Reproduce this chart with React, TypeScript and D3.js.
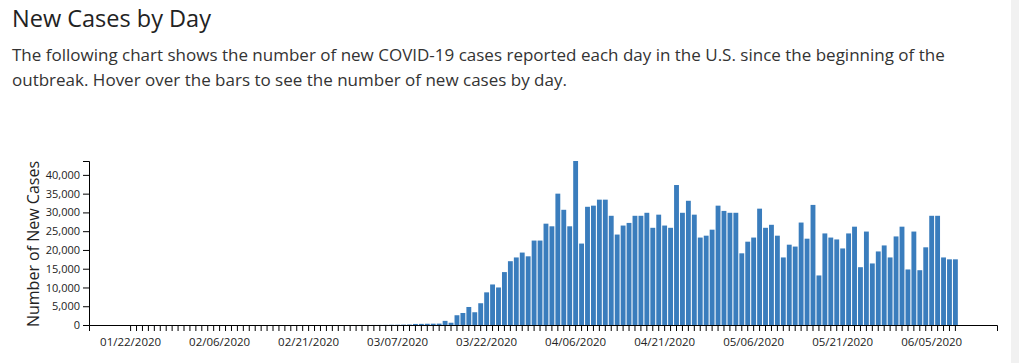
import React, { useEffect, useRef } from 'react'
import * as d3 from 'd3'

// first and last reported day (end is exclusive)
const START_DAY = new Date(Date.UTC(2020, 0, 22))
const END_DAY = new Date(Date.UTC(2020, 5, 10))

// new cases per day, 01/22 .. 06/09
const newCases = [
    // 01/22 - 02/29
    1, 0, 1, 0, 2, 0, 0, 0, 1, 2, 1, 0, 3, 0, 0, 0, 0, 0, 0, 0,
    0, 1, 0, 0, 0, 0, 0, 0, 0, 0, 0, 0, 0, 0, 3, 1, 0, 2, 3,
    // 03/01 - 03/31
    8, 8, 17, 20, 30, 60, 70, 90, 120,
    280, 300, 330, 350, 370, 1100, 600, 2600, 3200, 4800, 3400, 5800,
    8700, 10800, 10000, 14100, 17000, 18000, 19300, 18300, 22500, 22500,
    // 04/01 - 04/30
    27000, 26300, 35000, 30700, 26300, 43700, 21700, 31500, 31800, 33400,
    33400, 29100, 24100, 26500, 27200, 29100, 29100, 29900, 25900, 29400,
    26500, 25900, 37300, 29900, 33100, 29400, 23300, 23800, 25400, 31800,
    // 05/01 - 05/31
    30400, 29900, 29900, 19100, 22200, 23300, 31000, 25900, 26700, 23800,
    18000, 21400, 20900, 27300, 23000, 32000, 13200, 24400, 23300, 22800,
    20400, 24400, 26200, 15400, 24900, 16400, 19600, 21200, 18000, 23600,
    26200,
    // 06/01 - 06/09
    14800, 24900, 14600, 20700, 29100, 29100, 18000, 17500, 17500
]

const yTicks = [0, 5000, 10000, 15000, 20000, 25000, 30000, 35000, 40000]
const LABEL_EVERY = 15

const titleText = 'New Cases by Day'
const introLines = [
    'The following chart shows the number of new COVID-19 cases reported each day in the U.S. since the beginning of the',
    'outbreak. Hover over the bars to see the number of new cases by day.'
]

const W = 1019, H = 363
const FONT = "'Open Sans', sans-serif"

const App = () => {
    const svgRef = useRef<SVGSVGElement>(null)

    useEffect(() => {
        const days = d3.utcDay.range(START_DAY, END_DAY)
        const fmt = d3.utcFormat('%m/%d/%Y')
        const dataset = days.map((d, i) => ({ day: fmt(d), cases: newCases[i] ?? 0 }))

        const svg = d3.select(svgRef.current)
        svg.selectAll('*').remove()

        const x = d3.scaleBand()
            .domain(dataset.map(d => d.day))
            .range([89, 997])
            .paddingInner(0.18)
            .paddingOuter(6.6)

        const y = d3.scaleLinear()
            .domain([0, d3.max(dataset, d => d.cases) ?? 0])
            .range([325, 161])

        // 柱子
        svg.append('g')
            .selectAll('rect')
            .data(dataset)
            .join('rect')
            .attr('x', d => x(d.day) ?? 0)
            .attr('y', d => y(d.cases))
            .attr('width', x.bandwidth())
            .attr('height', d => y(0) - y(d.cases))
            .attr('fill', '#3a7dbd')

        // x 轴, 每天一个刻度, 每 15 天一个标签
        const xAxis = d3.axisBottom(x)
            .tickSize(6)
            .tickFormat((d, i) => (i % LABEL_EVERY === 0 ? d : ''))
        svg.append('g')
            .attr('transform', `translate(0,${y(0)})`)
            .call(xAxis)
            .call(g => g.selectAll('text')
                .attr('font-family', FONT)
                .attr('font-size', 11.5)
                .attr('fill', '#222')
                .attr('dy', '1.0em'))

        // y 轴
        const yAxis = d3.axisLeft(y)
            .tickValues(yTicks)
            .tickFormat(d3.format(','))
        svg.append('g')
            .attr('transform', 'translate(89,0)')
            .call(yAxis)
            .call(g => g.selectAll('text')
                .attr('font-family', FONT)
                .attr('font-size', 11)
                .attr('fill', '#222'))

        svg.append('text')
            .attr('transform', `translate(39,${(y(0) + y.range()[1]) / 2 + 1}) rotate(-90)`)
            .attr('text-anchor', 'middle')
            .attr('font-family', FONT)
            .attr('font-size', 16)
            .attr('fill', '#222')
            .text('Number of New Cases')
    }, [])

    return (<>
        <style>{'body { margin: 0; }'}</style>
        <svg ref={svgRef} width={W} height={H} style={{ display: 'block', background: '#fff' }} />
        <svg width={W} height={H} style={{ position: 'absolute', left: 0, top: 0, pointerEvents: 'none' }}>
            <rect x={1011} y={0} width={8} height={H} fill="#f1f1f1" />
            <text x={12} y={27} fontFamily={FONT} fontSize={23.5} fill="#222">{titleText}</text>
            {introLines.map((t, i) => (
                <text key={i} x={12} y={61 + i * 25} fontFamily={FONT} fontSize={17} fill="#333">{t}</text>
            ))}
        </svg>
    </>)
}

export default App
